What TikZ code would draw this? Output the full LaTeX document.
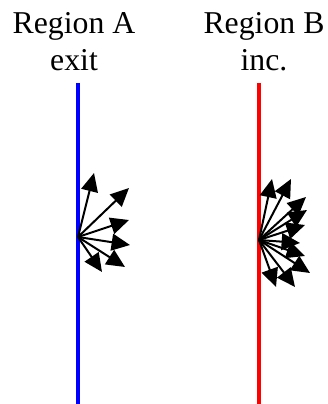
\documentclass[tikz,border=0pt]{standalone}
\usepackage{fontspec}
\setmainfont{Liberation Serif}
\usetikzlibrary{arrows.meta}
\tikzset{>={Triangle[length=4.6mm,width=4.2mm]},
  every node/.style={font=\fontsize{22.6}{26.2}\selectfont},
  wall/.style={line width=1mm},
  ray/.style={->,draw=black,line width=.5mm},
  title/.style={align=center,anchor=north,inner sep=0pt}}
\begin{document}
\begin{tikzpicture}[x=.25mm,y=-.25mm]
\useasboundingbox (0,0) rectangle (327,404);
\draw[wall,blue] (77.5,83)--(77.5,404);\draw[wall,red] (258.5,83)--(258.5,404);
\node[title] (labA) at (74,12) {Region A\\exit};
\node[title] (labB) at (264,12) {Region B\\inc.};
\coordinate (srcA) at (78,237);\coordinate (srcB) at (259,240);
\foreach \x/\y in {94/173,129/188,129/220,130/245,125/267,102/272}{\draw[ray] (srcA)--(\x,\y);}
\foreach \x/\y in {272/179,291/179,306/197,307/210,305/225,300/243,305/256,310/273,295/287,276/287}{\draw[ray] (srcB)--(\x,\y);}
\end{tikzpicture}
\end{document}
